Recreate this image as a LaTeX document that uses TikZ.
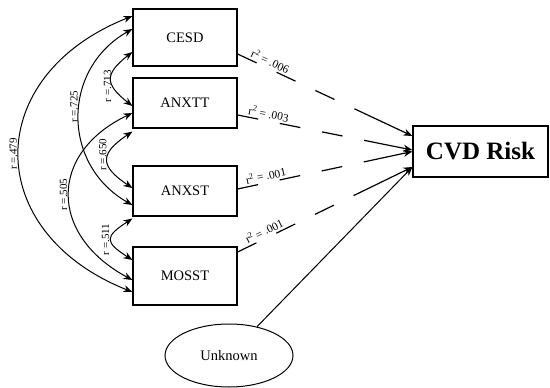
\documentclass[tikz,border=0pt]{standalone}
\usepackage{fontspec}
\setmainfont{Liberation Serif}
\usetikzlibrary{arrows.meta,shapes.geometric}

\tikzset{
  varbox/.style={draw, line width=1.2pt, minimum width=104pt, font=\fontsize{14.5}{17}\selectfont},
  corr/.style={{Stealth[length=9pt,width=7pt]}-{Stealth[length=9pt,width=7pt]}, line width=1pt},
  effect/.style={-{Stealth[length=9pt,width=7pt]}, line width=1.2pt,
    dash pattern=on 21pt off 22pt on 21pt off 22pt on 21pt off 22pt on 300pt},
  rlabel/.style={rotate=90, anchor=south, inner sep=1.5pt, font=\fontsize{11}{13}\selectfont},
  rsq/.style={sloped, above, inner sep=2pt, font=\fontsize{11.5}{13}\selectfont}
}

\begin{document}
\begin{tikzpicture}[x={(1pt,0)}, y={(0,-1pt)}]
  \useasboundingbox (0,0) rectangle (550,388);

  % Observed measures
  \node[varbox, minimum height=57pt] (cesd) at (185,37.5) {CESD};
  \node[varbox, minimum height=50pt] (anxtt) at (185,103) {ANXTT};
  \node[varbox, minimum height=50pt] (anxst) at (185,191) {ANXST};
  \node[varbox, minimum height=58pt] (mosst) at (185,276) {MOSST};

  % Outcome and unexplained part
  \node[draw, line width=1.2pt, minimum width=135pt, minimum height=51pt,
        font=\bfseries\fontsize{25}{29}\selectfont] (cvd) at (480.5,151.5) {CVD Risk};
  \node[draw, ellipse, line width=1pt, minimum width=128pt, minimum height=63pt,
        font=\fontsize{14.5}{17}\selectfont] (unknown) at (229,355.5) {Unknown};

  % Correlations between measures
  \draw[corr] ([yshift=21.5pt]cesd.west) .. controls +(-151,60) and +(-151,-60) ..
    node[rlabel] {r =.479} ([yshift=-16pt]mosst.west);
  \draw[corr] ([yshift=8.5pt]cesd.west) .. controls +(-71,40) and +(-71,-40) ..
    node[rlabel, pos=0.45] {r =.725} ([yshift=-14pt]anxst.west);
  \draw[corr] ([yshift=-14.5pt]cesd.west) .. controls +(-28,22) and +(-28,-22) ..
    node[rlabel, pos=0.65] {r =.713} ([yshift=-3pt]anxtt.west);
  \draw[corr] ([yshift=-3pt]anxtt.south west) .. controls +(-33,22) and +(-33,-22) ..
    node[rlabel, pos=0.4] {r =.650} ([yshift=3pt]anxst.west);
  \draw[corr] ([yshift=-10pt]anxtt.west) .. controls +(-84,40) and +(-84,-45) ..
    node[rlabel] {r =.505} ([yshift=-4pt]mosst.west);
  \draw[corr] ([yshift=-2pt]anxst.south west) .. controls +(-28,18) and +(-28,-18) ..
    node[rlabel] {r =.511} ([yshift=16pt]mosst.west);

  % Effects on CVD risk
  \draw[effect] ([yshift=-16.5pt]cesd.east) -- node[rsq, pos=0.17] {r\textsuperscript{2} = .006} ([yshift=15.5pt]cvd.west);
  \draw[effect] ([yshift=-12pt]anxtt.east) -- node[rsq, pos=0.17] {r\textsuperscript{2} = .003} ([yshift=1.5pt]cvd.west);
  \draw[effect] ([yshift=2pt]anxst.east) -- node[rsq, pos=0.17] {r\textsuperscript{2} = .001} ([yshift=0pt]cvd.west);
  \draw[effect] ([yshift=24pt]mosst.east) -- node[rsq, pos=0.17] {r\textsuperscript{2} = .001} ([yshift=-15.5pt]cvd.west);
  \draw[-{Stealth[length=9pt,width=7pt]}, line width=1pt] (unknown) -- ([yshift=-15.5pt]cvd.west);
\end{tikzpicture}
\end{document}
